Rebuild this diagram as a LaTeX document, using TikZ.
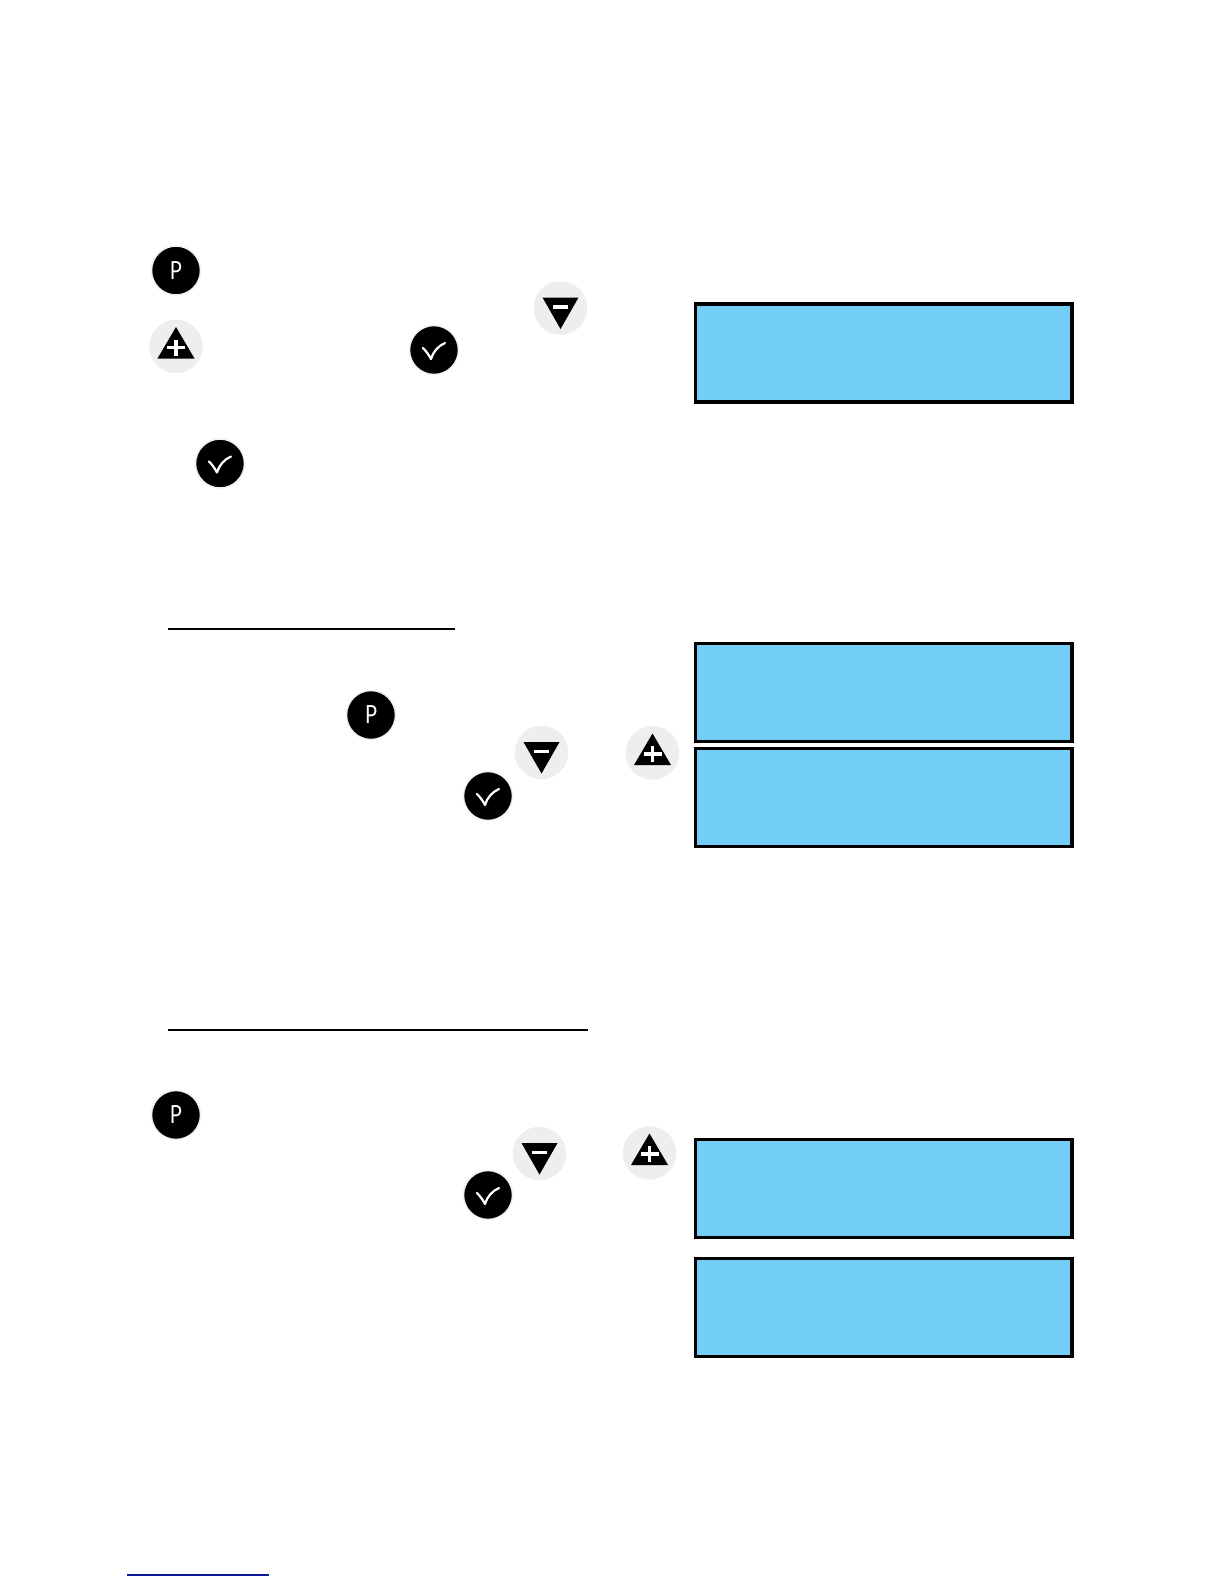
\documentclass[tikz,border=0pt]{standalone}
\usepackage{fontspec}
\newfontfamily\pfont{Lato}
\definecolor{screenblue}{HTML}{72CEF6}
\definecolor{keygrey}{HTML}{EEEEF0}
\definecolor{halo}{HTML}{F1F1F1}
\definecolor{linkblue}{HTML}{0A1A9A}
\tikzset{
  screen/.style={draw=black,fill=screenblue,line width=3.4pt,minimum width=376.5pt,minimum height=98pt,inner sep=0pt,outer sep=0pt},
  darkkey/.style={circle,fill=black,draw=halo,line width=1.5pt,minimum size=49pt,inner sep=0pt},
  lightkey/.style={circle,fill=keygrey,minimum size=53.5pt,inner sep=0pt},
  rule/.style={line width=2.2pt,black},
  tick/.style={draw=white,line width=2.2pt,line cap=round,line join=round},
  pkey/.pic={\node[darkkey] (-k) at (0,0) {};
    \node[font=\pfont\fontsize{25}{25}\selectfont,text=white,xscale=.8,inner sep=0pt] (-t) at (0,0) {P};},
  checkkey/.pic={\node[darkkey] (-k) at (0,0) {};
    \draw[tick] (-11,-2) .. controls (-8,1) and (-5,5) .. (-3,9) .. controls (-1,2) and (4,-4) .. (11,-7);},
  minuskey/.pic={\node[lightkey] (-k) at (0,0) {};
    \fill[black] (-18,-10.5) -- (18,-10.5) -- (0,21) -- cycle;
    \fill[white] (-7.5,-3) rectangle (7.5,0.5);},
  pluskey/.pic={\node[lightkey] (-k) at (0,0) {};
    \fill[black] (0,-19.5) -- (18.5,12) -- (-18.5,12) -- cycle;
    \fill[white] (-9,-1) rectangle (9,2.6);
    \fill[white] (-1.8,-7) rectangle (1.8,9);},
}
\begin{document}
\begin{tikzpicture}[x=1pt,y=-1pt]
\useasboundingbox[fill=white] (0,0) rectangle (1224,1584);
% screens
\node[screen] (s1) at (883.8,353) {};
\node[screen] (s2) at (883.8,692.5) {};
\node[screen] (s3) at (883.8,797.5) {};
\node[screen] (s4) at (883.8,1188.5) {};
\node[screen] (s5) at (883.8,1307.5) {};
% buttons, first block
\pic (p1) at (176,270.5) {pkey};
\pic (m1) at (560.5,308) {minuskey};
\pic (a1) at (176,346.5) {pluskey};
\pic (c1) at (434,350) {checkkey};
\pic (c2) at (220,463.5) {checkkey};
% second block
\coordinate (r1a) at (167.5,629);
\coordinate (r1b) at (455,629);
\draw[rule] (r1a) -- (r1b);
\pic (p2) at (371,715) {pkey};
\pic (m2) at (541.5,752.5) {minuskey};
\pic (a2) at (652.5,753) {pluskey};
\pic (c3) at (488,796) {checkkey};
% third block
\coordinate (r2a) at (167.5,1030);
\coordinate (r2b) at (588,1030);
\draw[rule] (r2a) -- (r2b);
\pic (p3) at (176,1115) {pkey};
\pic (m3) at (539.5,1153.5) {minuskey};
\pic (a3) at (649.5,1153) {pluskey};
\pic (c4) at (488,1195) {checkkey};
% footer rule
\coordinate (f1) at (127,1575);
\coordinate (f2) at (269,1575);
\draw[linkblue,line width=1.2pt] (f1) -- (f2);
\end{tikzpicture}
\end{document}
